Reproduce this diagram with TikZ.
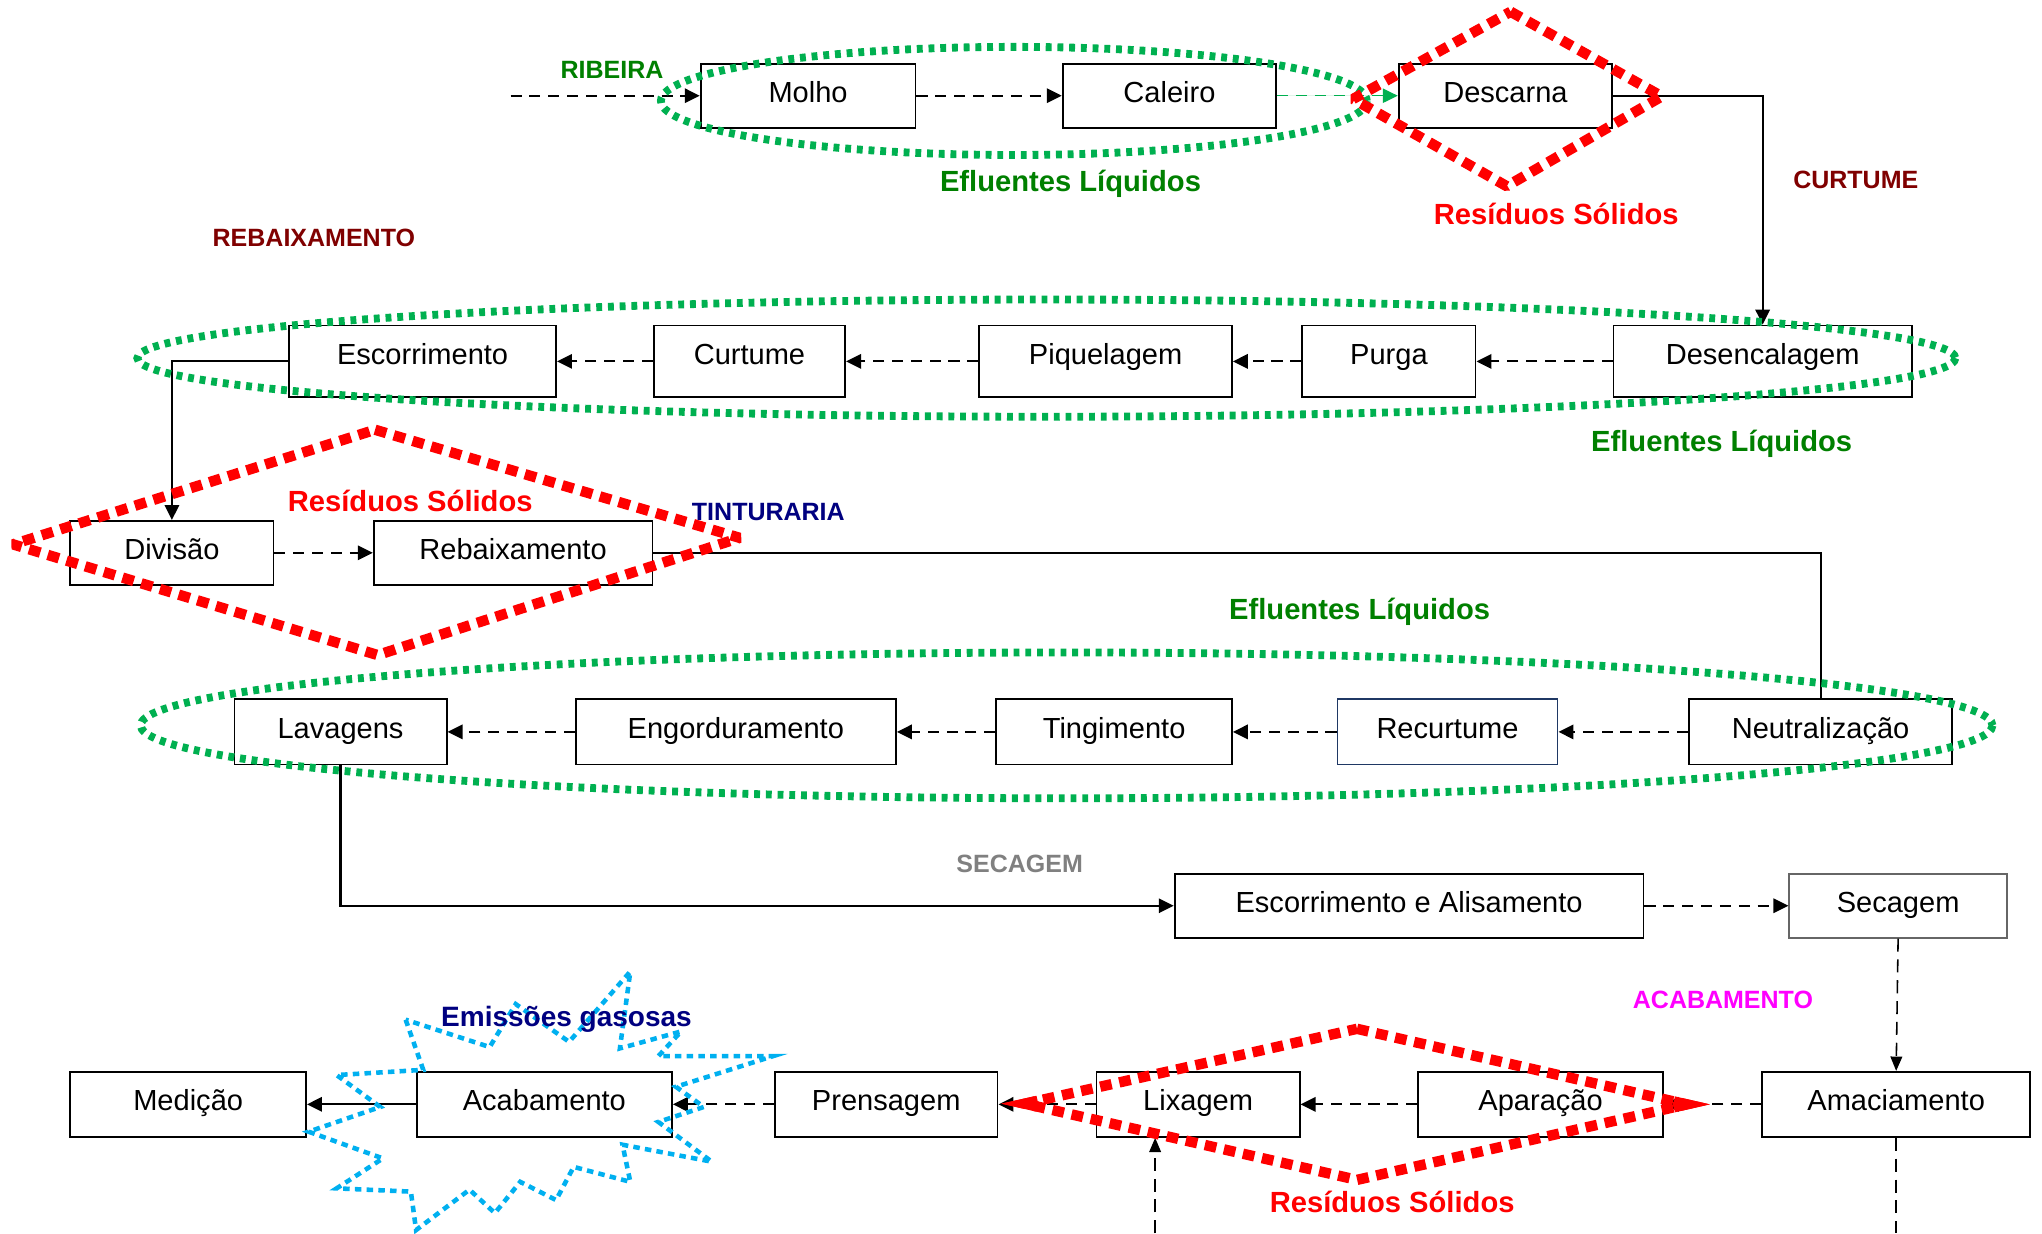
\documentclass[tikz,border=0pt]{standalone}
\usepackage{fontspec}
\setmainfont{Liberation Sans}
\usetikzlibrary{arrows.meta,calc}
\definecolor{effgreen}{RGB}{0,176,80}
\definecolor{txtgreen}{RGB}{0,128,0}
\definecolor{darkred}{RGB}{128,0,0}
\definecolor{navyblue}{RGB}{0,0,128}
\definecolor{skyblue}{RGB}{0,176,240}
\definecolor{recborder}{RGB}{31,56,100}
\definecolor{purplemag}{RGB}{255,0,255}
\begin{document}
\begin{tikzpicture}[x=1pt,y=-1pt,
 box/.style={draw, line width=1.4pt, fill=white, minimum height=49pt, inner sep=0pt,
   text height=16pt, text depth=5pt, font=\fontsize{22.3}{26}\selectfont},
 tallbox/.style={box, minimum height=55pt, text depth=11pt},
 midbox/.style={box, minimum height=50pt, text depth=6pt},
 flow/.style={line width=1.7pt, dash pattern=on 8.5pt off 6pt, -{Triangle[length=11.5pt,width=11pt]}},
 solidflow/.style={line width=1.7pt, -{Triangle[length=11.5pt,width=11pt]}},
 effl/.style={draw=effgreen, line width=6pt, dash pattern=on 4.5pt off 4.5pt},
 resid/.style={draw=red, line width=8pt, dash pattern=on 9pt off 6pt},
 residtip/.style={draw=red, line width=8pt, line join=miter, miter limit=20},
 gas/.style={draw=skyblue, line width=3.5pt, dash pattern=on 5pt off 4pt},
 biglbl/.style={font=\bfseries\fontsize{22.4}{26}\selectfont},
 stage/.style={font=\bfseries\fontsize{19.2}{22}\selectfont}]

\useasboundingbox[fill=white] (0,0) rectangle (1568,947);

% Row 1
\node[box, minimum width=165pt] (molho) at (620.5,73.5) {Molho};
\node[box, minimum width=164pt] (caleiro) at (898,73.5) {Caleiro};
\node[box, minimum width=164pt] (descarna) at (1156,73.5) {Descarna};
% Row 2
\node[tallbox, minimum width=205pt] (escorr) at (324.5,277.5) {Escorrimento};
\node[tallbox, minimum width=147pt] (curtume) at (575.5,277.5) {Curtume};
\node[tallbox, minimum width=194pt] (piquel) at (849,277.5) {Piquelagem};
\node[tallbox, minimum width=133pt] (purga) at (1066.5,277.5) {Purga};
\node[tallbox, minimum width=229pt] (desenc) at (1353.5,277.5) {Desencalagem};
% Row 3
\node[box, minimum width=156pt] (divisao) at (132,424.5) {Divisão};
\node[box, minimum width=214pt] (rebaix) at (394,424.5) {Rebaixamento};
% Row 4
\node[midbox, minimum width=163pt] (lavagens) at (261.5,562) {Lavagens};
\node[midbox, minimum width=246pt] (engord) at (565,562) {Engorduramento};
\node[midbox, minimum width=181pt] (tingim) at (855.5,562) {Tingimento};
\node[midbox, draw=recborder, minimum width=169pt] (recurt) at (1111.5,562) {Recurtume};
\node[midbox, minimum width=202pt] (neutral) at (1398,562) {Neutralização};
% Row 5
\node[box, minimum width=360pt] (escalis) at (1082,695.5) {Escorrimento e Alisamento};
\node[box, draw=black!60, minimum width=167pt] (secagem) at (1457.5,695.5) {Secagem};
% Row 6
\node[midbox, minimum width=181pt] (medicao) at (144.5,848) {Medição};
\node[midbox, minimum width=196pt] (acab) at (418,848) {Acabamento};
\node[midbox, minimum width=171pt] (prens) at (680.5,848) {Prensagem};
\node[midbox, minimum width=156pt] (lixag) at (920,848) {Lixagem};
\node[midbox, minimum width=188pt] (aparac) at (1183,848) {Aparação};
\node[midbox, minimum width=206pt] (amac) at (1456,848) {Amaciamento};

% free ends
\coordinate (start) at (392,73.5);
\coordinate (amacend) at (1456,947);
\coordinate (lixstart) at (887,947);

% Connectors
\draw[flow] (start) -- (molho.west);
\draw[flow] (molho.east) -- (caleiro.west);
\draw[flow, draw=effgreen, fill=effgreen, line width=1.2pt] (caleiro.east) -- (descarna.west);
\draw[solidflow] (descarna.east) -| (desenc.north);
\draw[flow] (desenc.west) -- (purga.east);
\draw[flow] (purga.west) -- (piquel.east);
\draw[flow] (piquel.west) -- (curtume.east);
\draw[flow] (curtume.west) -- (escorr.east);
\draw[solidflow] (escorr.west) -| (divisao.north);
\draw[flow] (divisao.east) -- (rebaix.west);
\draw[line width=1.7pt] (rebaix.east) -| (neutral.north);
\draw[flow] (neutral.west) -- (recurt.east);
\draw[flow] (recurt.west) -- (tingim.east);
\draw[flow] (tingim.west) -- (engord.east);
\draw[flow] (engord.west) -- (lavagens.east);
\draw[solidflow] (lavagens.south) |- (escalis.west);
\draw[flow] (escalis.east) -- (secagem.west);
\draw[line width=1.2pt, dash pattern=on 10pt off 6pt, -{Triangle[length=11pt,width=9pt]}] (secagem.south) -- (amac.north);
\draw[line width=1.2pt, dash pattern=on 10pt off 6pt] (amac.south) -- (amacend);
\draw[line width=1.2pt, dash pattern=on 10pt off 6pt, -{Triangle[length=11pt,width=9pt]}] (lixstart) -- (lixstart |- lixag.south);
\draw[flow] (amac.west) -- (aparac.east);
\draw[flow] (aparac.west) -- (lixag.east);
\draw[flow] (lixag.west) -- (prens.east);
\draw[flow] (prens.west) -- (acab.east);
\draw[solidflow] (acab.west) -- (medicao.east);

% Effluent ellipses
\draw[effl] (778.5,77.5) ellipse [x radius=271, y radius=41.5];
\draw[effl] (803.5,275) ellipse [x radius=698, y radius=45];
\draw[effl] (819,557) ellipse [x radius=711, y radius=56];

% Solid residue diamonds
\draw[resid, line join=bevel] (1160,9) -- (1276,74) -- (1157,143) -- (1039,76) -- cycle;
\draw[resid, line join=bevel] (288,330) -- (568,413) -- (290,503) -- (10,418) -- cycle;
\coordinate (dT) at (1042,790);
\coordinate (dR) at (1295,848);
\coordinate (dB) at (1042,906);
\coordinate (dL) at (787,847.5);
\draw[resid] (dT) -- (dR) -- (dB) -- (dL) -- cycle;
\draw[residtip] ($(dL)!10pt!(dT)$) -- (dL) -- ($(dL)!10pt!(dB)$);
\draw[residtip] ($(dR)!10pt!(dT)$) -- (dR) -- ($(dR)!10pt!(dB)$);

% Gas emission starburst
\draw[gas] (311.5,783) -- (325,821.5) -- (258.5,825.5) -- (292,850) -- (237,869)
 -- (294,889.5) -- (258.5,912.5) -- (315.5,915) -- (319.5,944.5) -- (360.5,913.5)
 -- (380,931.5) -- (399.5,907.5) -- (427,921.5) -- (440.5,896) -- (484,907.5)
 -- (478,879) -- (546.5,892) -- (505.5,861.5) -- (540.5,850) -- (519,834.5)
 -- (593.5,811) -- (505.5,811) -- (523,792) -- (476,805) -- (484,746)
 -- (437,800) -- (396,771) -- (376,804) -- cycle;

% Labels
\node[stage, text=txtgreen] (lribeira) at (470,54) {RIBEIRA};
\node[biglbl, text=txtgreen] (lef1) at (822,141) {Efluentes Líquidos};
\node[biglbl, text=red] (lrs1) at (1195,164) {Resíduos Sólidos};
\node[stage, text=darkred] (lcurtume) at (1425,138) {CURTUME};
\node[stage, text=darkred] (lrebaix) at (241,183) {REBAIXAMENTO};
\node[biglbl, text=txtgreen] (lef2) at (1322,341) {Efluentes Líquidos};
\node[biglbl, text=red] (lrs2) at (315,385) {Resíduos Sólidos};
\node[stage, text=navyblue] (ltint) at (590,393) {TINTURARIA};
\node[biglbl, text=txtgreen] (lef3) at (1044,470) {Efluentes Líquidos};
\node[stage, text=black!50] (lsecag) at (783,663) {SECAGEM};
\node[stage, text=purplemag] (lacab) at (1323,768) {ACABAMENTO};
\node[font=\bfseries\fontsize{21.5}{25}\selectfont, text=navyblue] (lgas) at (435,783) {Emissões gasosas};
\node[biglbl, text=red] (lrs3) at (1069,923) {Resíduos Sólidos};
\end{tikzpicture}
\end{document}
